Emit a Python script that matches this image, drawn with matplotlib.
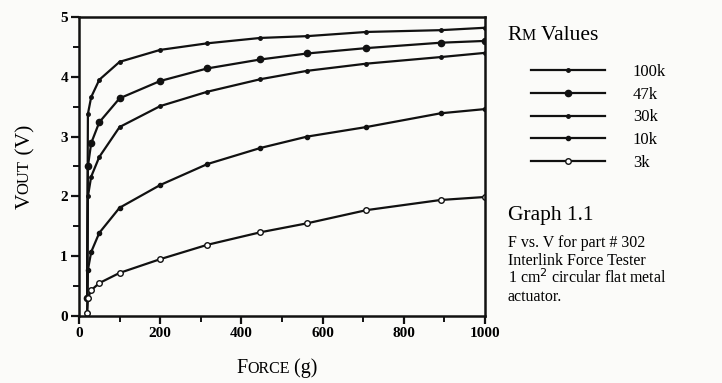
"""Graph 1.1: F vs. V for part # 302 (Interlink force tester)."""
import matplotlib
matplotlib.use("Agg")
import matplotlib.pyplot as plt
from matplotlib.ticker import MultipleLocator
from matplotlib.transforms import offset_copy

plt.rcParams["font.family"] = ["Liberation Serif", "DejaVu Serif"]

# data
force = [20, 22, 30, 50, 100, 200, 316, 447, 562, 708, 891, 1000]
v_100k = [0.30, 3.38, 3.66, 3.95, 4.25, 4.45, 4.56, 4.65, 4.68, 4.75, 4.78, 4.82]
v_47k = [0.30, 2.50, 2.89, 3.24, 3.64, 3.93, 4.14, 4.29, 4.39, 4.48, 4.57, 4.60]
v_30k = [0.30, 2.00, 2.33, 2.66, 3.16, 3.51, 3.75, 3.96, 4.10, 4.22, 4.33, 4.40]
v_10k = [0.05, 0.77, 1.07, 1.39, 1.81, 2.19, 2.54, 2.81, 3.00, 3.16, 3.39, 3.46]
v_3k = [0.05, 0.30, 0.43, 0.55, 0.72, 0.95, 1.19, 1.40, 1.55, 1.77, 1.94, 1.99]
rm_labels = ["100k", "47k", "30k", "10k", "3k"]

fig = plt.figure(figsize=(7.22, 3.83), dpi=100, facecolor="#fbfbf9")
ax = fig.add_axes([0.1094, 0.175, 0.5623, 0.7806], facecolor="#fbfbf9")

ink = "#111111"
styles = [
    dict(marker="o", ms=2.5, mfc=ink),
    dict(marker="o", ms=4.5, mfc=ink),
    dict(marker="o", ms=2.5, mfc=ink),
    dict(marker="o", ms=3.0, mfc=ink),
    dict(marker="o", ms=4.0, mfc="white"),
]
series = [v_100k, v_47k, v_30k, v_10k, v_3k]
handles = []
for vals, lab, st in zip(series, rm_labels, styles):
    h, = ax.plot(force, vals, color=ink, lw=1.6, mec=ink, mew=1.0,
                 label=lab, **st)
    handles.append(h)

ax.set_xlim(0, 1000)
ax.set_ylim(0, 5)
ax.xaxis.set_major_locator(MultipleLocator(200))
ax.xaxis.set_minor_locator(MultipleLocator(100))
ax.yaxis.set_major_locator(MultipleLocator(1))
ax.yaxis.set_minor_locator(MultipleLocator(0.5))
for s in ax.spines.values():
    s.set_linewidth(1.8)
    s.set_color(ink)
ax.tick_params(which="major", length=6, width=1.6, color=ink, labelsize=11,
               pad=2)
ax.tick_params(which="minor", length=4, width=1.4, color=ink)
for t in ax.get_xticklabels() + ax.get_yticklabels():
    t.set_fontweight("bold")

renderer = fig.canvas.get_renderer()


def small_caps(x, y, pieces, vertical=False):
    """chain text pieces of different sizes, butted together (small caps)."""
    rot = 90 if vertical else 0
    va = "bottom" if vertical else "baseline"
    shift = 0.0
    for txt, size in pieces:
        if vertical:
            tr = offset_copy(fig.transFigure, fig=fig, x=0, y=shift, units="dots")
        else:
            tr = offset_copy(fig.transFigure, fig=fig, x=shift, y=0, units="dots")
        t = fig.text(x, y, txt, fontsize=size, rotation=rot, transform=tr,
                     ha="left", va=va)
        bb = t.get_window_extent(renderer)
        shift += (bb.height if vertical else bb.width) * 0.98


small_caps(0.328, 0.025, [("F", 14.5), ("ORCE", 11.5), (" (g)", 14.5)])
small_caps(0.022, 0.455, [("V", 15.5), ("OUT", 12), (" (V)", 15.5)],
           vertical=True)
small_caps(0.703, 0.895, [("R", 15.5), ("M", 11.5), (" Values", 15.5)])

fig.legend(handles, rm_labels, loc="upper left",
           bbox_to_anchor=(0.715, 0.872), frameon=False, handlelength=4.4,
           handletextpad=1.7, labelspacing=0.4, fontsize=12)

fig.text(0.703, 0.425, "Graph 1.1", fontsize=15.5, va="baseline")
notes = ["F vs. V for part # 302", "Interlink Force Tester",
         "1 cm$^2$ circular flat metal", "actuator."]
for i, line in enumerate(notes):
    fig.text(0.703, 0.355 - i * 0.047, line, fontsize=11.5, va="baseline")

fig.savefig("out.png", dpi=100, facecolor=fig.get_facecolor())
